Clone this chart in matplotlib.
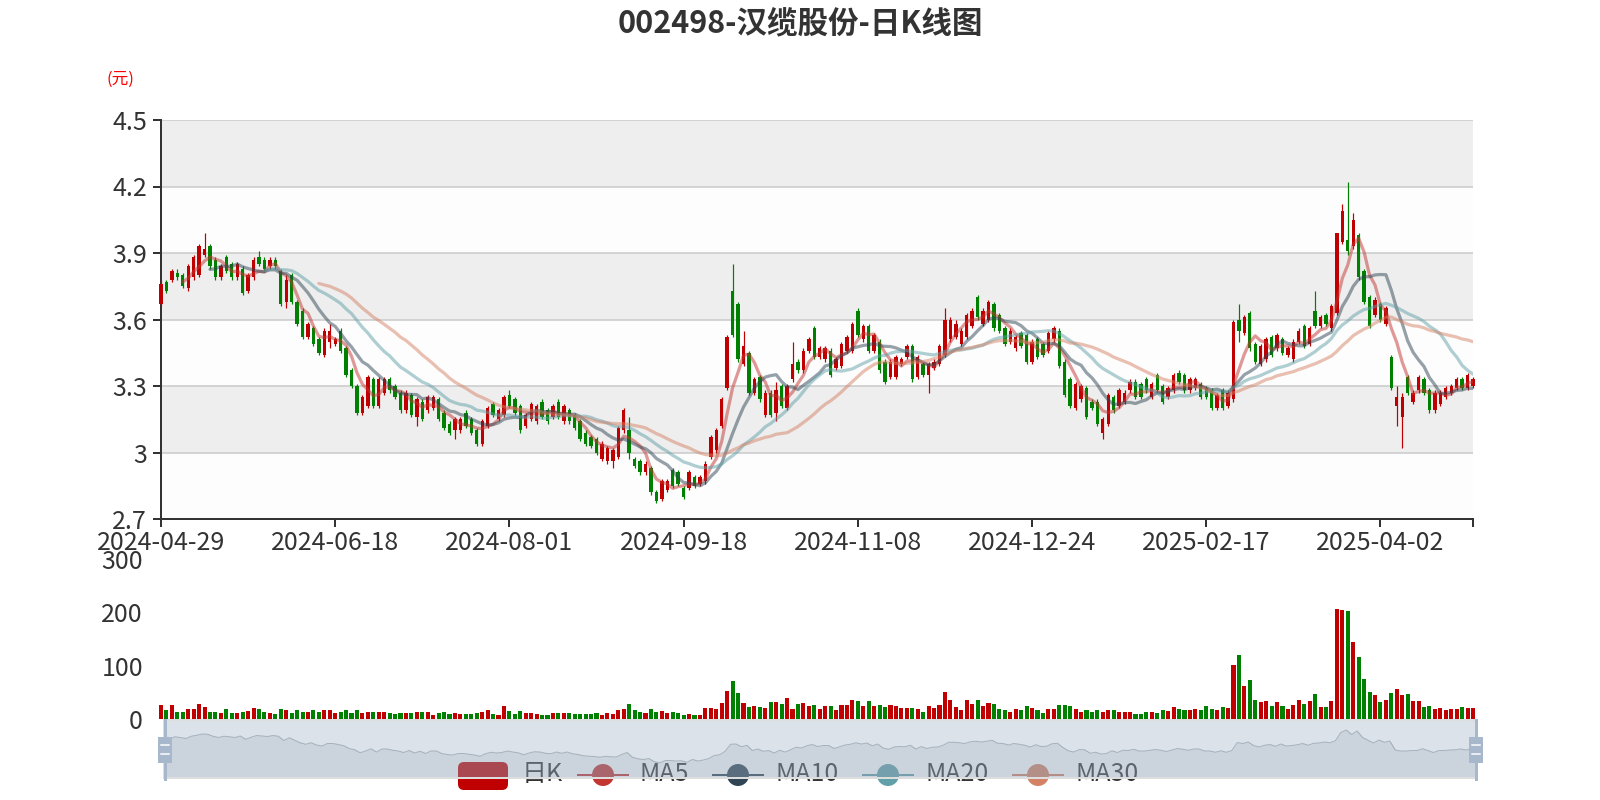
import numpy as np
import pandas as pd
import matplotlib
matplotlib.use('Agg')
import matplotlib.pyplot as plt
from matplotlib.patches import FancyBboxPatch, Rectangle, Circle

plt.rcParams['font.family'] = ['Noto Sans CJK SC', 'DejaVu Sans']

# trading days (SZ exchange calendar)
holidays = ['2024-05-01', '2024-05-02', '2024-05-03', '2024-06-10', '2024-09-16', '2024-09-17',
            '2024-10-01', '2024-10-02', '2024-10-03', '2024-10-04', '2024-10-07',
            '2025-01-01', '2025-01-28', '2025-01-29', '2025-01-30', '2025-01-31',
            '2025-02-03', '2025-02-04', '2025-04-04']
days = pd.bdate_range('2024-04-29', '2025-04-28')
days = days[~days.isin(pd.to_datetime(holidays))]
dates = days.strftime('%Y-%m-%d').tolist()

opens = [3.67, 3.77, 3.78, 3.81, 3.80, 3.74, 3.79, 3.80, 3.89, 3.93, 3.87, 3.79, 3.88, 3.85, 3.79, 3.83,
         3.73, 3.79, 3.88, 3.87, 3.84, 3.87, 3.82, 3.68, 3.80, 3.68, 3.64, 3.52, 3.56, 3.51, 3.44, 3.50,
         3.49, 3.55, 3.47, 3.37, 3.30, 3.18, 3.21, 3.33, 3.21, 3.27, 3.33, 3.30, 3.27, 3.19, 3.26, 3.16,
         3.23, 3.19, 3.20, 3.24, 3.18, 3.13, 3.10, 3.10, 3.18, 3.15, 3.10, 3.04, 3.12, 3.22, 3.15, 3.17,
         3.26, 3.24, 3.21, 3.12, 3.15, 3.14, 3.23, 3.19, 3.16, 3.23, 3.14, 3.19, 3.17, 3.14, 3.09, 3.07,
         3.06, 2.97, 2.96, 2.96, 2.98, 3.10, 3.10, 2.97, 2.96, 2.91, 2.93, 2.82, 2.79, 2.83, 2.92, 2.91,
         2.84, 2.84, 2.89, 2.86, 2.87, 2.98, 3.01, 3.12, 3.29, 3.73, 3.67, 3.40, 3.45, 3.27, 3.34, 3.17,
         3.27, 3.18, 3.30, 3.20, 3.33, 3.41, 3.37, 3.46, 3.56, 3.43, 3.42, 3.46, 3.38, 3.39, 3.46, 3.46,
         3.64, 3.51, 3.57, 3.46, 3.50, 3.41, 3.34, 3.34, 3.40, 3.43, 3.48, 3.34, 3.40, 3.35, 3.38, 3.40,
         3.44, 3.51, 3.52, 3.49, 3.52, 3.57, 3.70, 3.58, 3.60, 3.67, 3.62, 3.56, 3.50, 3.47, 3.54, 3.53,
         3.41, 3.51, 3.49, 3.46, 3.51, 3.55, 3.41, 3.33, 3.20, 3.24, 3.29, 3.23, 3.23, 3.09, 3.13, 3.25,
         3.21, 3.23, 3.28, 3.32, 3.31, 3.33, 3.25, 3.35, 3.30, 3.25, 3.28, 3.36, 3.35, 3.28, 3.29, 3.31,
         3.29, 3.28, 3.20, 3.28, 3.21, 3.24, 3.60, 3.54, 3.63, 3.49, 3.40, 3.42, 3.52, 3.47, 3.51, 3.44,
         3.42, 3.50, 3.57, 3.49, 3.64, 3.57, 3.62, 3.56, 3.63, 3.95, 3.96, 3.93, 3.98, 3.82, 3.70, 3.62,
         3.67, 3.58, 3.43, 3.21, 3.16, 3.34, 3.23, 3.28, 3.33, 3.28, 3.19, 3.22, 3.25, 3.27, 3.29, 3.33,
         3.29, 3.30]
closes = [3.76, 3.73, 3.82, 3.79, 3.75, 3.84, 3.88, 3.93, 3.92, 3.84, 3.79, 3.84, 3.82, 3.79, 3.85, 3.72,
          3.80, 3.87, 3.85, 3.83, 3.87, 3.84, 3.67, 3.78, 3.68, 3.58, 3.52, 3.58, 3.49, 3.45, 3.55, 3.55,
          3.51, 3.46, 3.35, 3.30, 3.18, 3.25, 3.34, 3.21, 3.33, 3.33, 3.28, 3.25, 3.19, 3.27, 3.17, 3.24,
          3.15, 3.25, 3.25, 3.15, 3.11, 3.09, 3.15, 3.15, 3.12, 3.09, 3.04, 3.14, 3.20, 3.17, 3.19, 3.25,
          3.21, 3.18, 3.10, 3.17, 3.22, 3.21, 3.16, 3.14, 3.21, 3.16, 3.21, 3.14, 3.11, 3.06, 3.04, 3.03,
          3.00, 3.04, 3.02, 3.01, 3.11, 3.19, 3.00, 2.94, 2.91, 2.95, 2.82, 2.78, 2.87, 2.87, 2.85, 2.86,
          2.80, 2.91, 2.85, 2.89, 2.95, 3.07, 3.10, 3.24, 3.52, 3.53, 3.42, 3.48, 3.27, 3.33, 3.24, 3.27,
          3.17, 3.28, 3.21, 3.30, 3.40, 3.37, 3.46, 3.51, 3.43, 3.47, 3.47, 3.35, 3.42, 3.49, 3.52, 3.58,
          3.53, 3.57, 3.46, 3.53, 3.37, 3.32, 3.41, 3.43, 3.42, 3.48, 3.33, 3.43, 3.35, 3.40, 3.41, 3.48,
          3.60, 3.60, 3.58, 3.55, 3.62, 3.64, 3.61, 3.64, 3.68, 3.56, 3.55, 3.49, 3.55, 3.52, 3.48, 3.41,
          3.50, 3.43, 3.44, 3.54, 3.56, 3.39, 3.26, 3.21, 3.31, 3.30, 3.16, 3.20, 3.13, 3.15, 3.26, 3.19,
          3.28, 3.27, 3.32, 3.25, 3.25, 3.28, 3.31, 3.28, 3.23, 3.29, 3.35, 3.32, 3.28, 3.33, 3.33, 3.25,
          3.25, 3.20, 3.26, 3.20, 3.27, 3.59, 3.55, 3.61, 3.47, 3.41, 3.48, 3.51, 3.44, 3.53, 3.45, 3.47,
          3.50, 3.55, 3.48, 3.56, 3.57, 3.61, 3.58, 3.66, 3.99, 4.09, 3.91, 4.05, 3.79, 3.68, 3.57, 3.69,
          3.60, 3.65, 3.29, 3.25, 3.25, 3.27, 3.27, 3.34, 3.27, 3.19, 3.27, 3.27, 3.29, 3.30, 3.33, 3.29,
          3.35, 3.33]
lows = [3.66, 3.72, 3.77, 3.78, 3.74, 3.73, 3.78, 3.79, 3.88, 3.83, 3.78, 3.78, 3.81, 3.78, 3.78, 3.71,
        3.72, 3.78, 3.84, 3.82, 3.83, 3.83, 3.66, 3.65, 3.67, 3.57, 3.51, 3.51, 3.48, 3.44, 3.43, 3.47,
        3.48, 3.45, 3.34, 3.29, 3.17, 3.17, 3.20, 3.20, 3.20, 3.26, 3.27, 3.24, 3.18, 3.18, 3.16, 3.12,
        3.14, 3.18, 3.19, 3.14, 3.10, 3.08, 3.06, 3.09, 3.11, 3.08, 3.03, 3.03, 3.11, 3.16, 3.14, 3.16,
        3.20, 3.17, 3.09, 3.11, 3.14, 3.13, 3.15, 3.13, 3.15, 3.15, 3.13, 3.13, 3.10, 3.05, 3.03, 3.02,
        2.99, 2.96, 2.95, 2.93, 2.97, 3.09, 2.97, 2.93, 2.90, 2.90, 2.81, 2.77, 2.78, 2.82, 2.84, 2.85,
        2.79, 2.83, 2.84, 2.85, 2.86, 2.97, 3.00, 3.11, 3.28, 3.52, 3.41, 3.39, 3.26, 3.26, 3.23, 3.16,
        3.16, 3.14, 3.20, 3.19, 3.32, 3.36, 3.36, 3.45, 3.42, 3.42, 3.41, 3.34, 3.37, 3.38, 3.45, 3.45,
        3.52, 3.50, 3.45, 3.45, 3.36, 3.31, 3.33, 3.33, 3.39, 3.42, 3.32, 3.33, 3.34, 3.27, 3.37, 3.39,
        3.43, 3.50, 3.51, 3.48, 3.51, 3.56, 3.60, 3.57, 3.59, 3.55, 3.54, 3.48, 3.49, 3.46, 3.47, 3.40,
        3.40, 3.42, 3.43, 3.45, 3.50, 3.38, 3.25, 3.20, 3.19, 3.23, 3.15, 3.19, 3.12, 3.06, 3.12, 3.18,
        3.20, 3.22, 3.27, 3.24, 3.24, 3.27, 3.24, 3.27, 3.22, 3.24, 3.27, 3.31, 3.27, 3.27, 3.28, 3.24,
        3.24, 3.19, 3.19, 3.19, 3.20, 3.23, 3.50, 3.53, 3.46, 3.40, 3.39, 3.41, 3.43, 3.46, 3.44, 3.43,
        3.41, 3.49, 3.47, 3.48, 3.56, 3.56, 3.57, 3.55, 3.62, 3.94, 3.89, 3.92, 3.78, 3.67, 3.56, 3.61,
        3.59, 3.57, 3.28, 3.12, 3.02, 3.26, 3.22, 3.27, 3.26, 3.18, 3.18, 3.21, 3.24, 3.26, 3.28, 3.28,
        3.28, 3.29]
highs = [3.78, 3.78, 3.83, 3.83, 3.81, 3.85, 3.89, 3.94, 3.99, 3.94, 3.88, 3.85, 3.89, 3.86, 3.86, 3.84,
         3.81, 3.88, 3.91, 3.88, 3.88, 3.88, 3.83, 3.80, 3.81, 3.69, 3.65, 3.59, 3.57, 3.52, 3.56, 3.58,
         3.52, 3.56, 3.48, 3.38, 3.31, 3.26, 3.35, 3.34, 3.34, 3.34, 3.34, 3.31, 3.28, 3.28, 3.27, 3.25,
         3.24, 3.26, 3.26, 3.25, 3.19, 3.14, 3.16, 3.16, 3.19, 3.16, 3.11, 3.15, 3.21, 3.23, 3.20, 3.26,
         3.28, 3.25, 3.22, 3.18, 3.23, 3.22, 3.24, 3.20, 3.22, 3.24, 3.22, 3.20, 3.18, 3.15, 3.10, 3.08,
         3.07, 3.05, 3.03, 3.02, 3.12, 3.20, 3.16, 2.98, 2.97, 2.96, 2.94, 2.83, 2.88, 2.88, 2.93, 2.92,
         2.85, 2.92, 2.90, 2.90, 2.96, 3.08, 3.11, 3.25, 3.53, 3.85, 3.68, 3.55, 3.46, 3.34, 3.35, 3.28,
         3.28, 3.32, 3.31, 3.31, 3.50, 3.42, 3.47, 3.52, 3.57, 3.48, 3.48, 3.47, 3.43, 3.50, 3.53, 3.59,
         3.65, 3.58, 3.58, 3.54, 3.51, 3.42, 3.42, 3.44, 3.43, 3.49, 3.49, 3.44, 3.41, 3.41, 3.42, 3.49,
         3.65, 3.61, 3.60, 3.56, 3.63, 3.65, 3.71, 3.65, 3.69, 3.68, 3.63, 3.57, 3.56, 3.53, 3.55, 3.54,
         3.51, 3.52, 3.50, 3.55, 3.57, 3.56, 3.42, 3.34, 3.32, 3.31, 3.30, 3.24, 3.24, 3.16, 3.27, 3.26,
         3.29, 3.28, 3.33, 3.33, 3.32, 3.34, 3.32, 3.36, 3.31, 3.30, 3.36, 3.37, 3.36, 3.34, 3.34, 3.32,
         3.30, 3.29, 3.27, 3.29, 3.28, 3.60, 3.67, 3.62, 3.64, 3.50, 3.49, 3.52, 3.53, 3.54, 3.52, 3.48,
         3.51, 3.56, 3.58, 3.57, 3.73, 3.62, 3.63, 3.67, 3.99, 4.12, 4.22, 4.08, 3.99, 3.83, 3.71, 3.70,
         3.68, 3.66, 3.44, 3.30, 3.27, 3.35, 3.28, 3.35, 3.34, 3.29, 3.28, 3.28, 3.30, 3.31, 3.34, 3.34,
         3.36, 3.34]
volumes = [26, 16, 26, 13, 13, 19, 18, 28, 23, 13, 13, 11, 18, 11, 11, 13, 15, 20, 19, 13, 12, 10, 18, 16,
           11, 17, 14, 14, 17, 14, 17, 17, 11, 14, 17, 11, 17, 11, 13, 13, 14, 14, 12, 10, 11, 11, 11, 13,
           13, 13, 8, 11, 13, 9, 12, 10, 10, 10, 11, 13, 17, 10, 8, 25, 15, 10, 15, 11, 11, 9, 8, 8,
           11, 11, 11, 12, 9, 9, 9, 9, 11, 7, 12, 10, 16, 18, 29, 17, 13, 11, 19, 13, 15, 12, 13, 11,
           8, 10, 8, 7, 20, 20, 19, 30, 53, 72, 48, 30, 23, 25, 23, 21, 31, 31, 28, 40, 19, 29, 30, 24,
           27, 19, 24, 25, 16, 27, 27, 36, 33, 25, 33, 25, 27, 22, 27, 24, 20, 20, 20, 19, 14, 24, 20, 26,
           50, 36, 22, 17, 35, 29, 36, 24, 30, 28, 19, 17, 14, 19, 17, 25, 20, 17, 12, 19, 19, 26, 26, 25,
           19, 14, 17, 14, 16, 14, 17, 16, 14, 14, 13, 9, 10, 14, 14, 12, 17, 15, 22, 19, 16, 17, 19, 16,
           25, 19, 17, 22, 20, 101, 120, 61, 74, 36, 31, 34, 24, 32, 24, 19, 26, 36, 29, 33, 46, 22, 22, 33,
           207, 205, 202, 145, 116, 75, 51, 45, 31, 35, 48, 56, 45, 47, 33, 33, 22, 24, 19, 20, 17, 19, 19, 22,
           20, 20]

UP = '#c00000'
DOWN = '#008000'
ma_names = ['MA5', 'MA10', 'MA20', 'MA30']
ma_windows = [5, 10, 20, 30]
ma_colors = ['#c23531', '#2f4554', '#61a0a8', '#d48265']

o = np.array(opens)
c = np.array(closes)
lo = np.array(lows)
hi = np.array(highs)
v = np.array(volumes)
x = np.arange(len(c))
n = len(c)
cols = np.where(c >= o, UP, DOWN)

W, H = 1600, 800
fig = plt.figure(figsize=(16, 8), dpi=100)

def box(l, t, r, b):
    return [l / W, 1 - b / H, (r - l) / W, (b - t) / H]

PX = 72 / 100  # points per pixel

# ---- main K chart ----
ax = fig.add_axes(box(161, 120, 1473, 519))
ax.set_xlim(0, n - 1)
ax.set_ylim(2.7, 4.5)
for k in range(6):
    ax.axhspan(2.7 + 0.3 * k, 3.0 + 0.3 * k, color='#fdfdfd' if k % 2 == 0 else '#eeeeee', lw=0, zorder=0)
for yv in [3.0, 3.3, 3.6, 3.9, 4.2, 4.5]:
    ax.axhline(yv, color='#cccccc', lw=1.6 * PX, zorder=1)

ax.vlines(x, lo, hi, colors=cols, lw=1.2 * PX, zorder=3, clip_on=False)
body = np.maximum(np.abs(c - o), 0.004)
ax.bar(x, body, bottom=np.minimum(o, c), width=0.62, color=cols, lw=0, zorder=3, clip_on=False)

cs = pd.Series(c)
for name, w, col in zip(ma_names, ma_windows, ma_colors):
    ax.plot(x, cs.rolling(w).mean(), color=col, lw=3.2 * PX, alpha=0.5, zorder=4,
            solid_capstyle='round', solid_joinstyle='round')

for s in ['top', 'right']:
    ax.spines[s].set_visible(False)
for s in ['left', 'bottom']:
    ax.spines[s].set_color('#333333')
    ax.spines[s].set_linewidth(2 * PX)
ax.set_yticks([2.7, 3.0, 3.3, 3.6, 3.9, 4.2, 4.5])
ax.set_yticklabels(['2.7', '3', '3.3', '3.6', '3.9', '4.2', '4.5'])
tick_idx = list(range(0, n, 32))
ax.set_xticks(tick_idx + [n - 1])
ax.set_xticklabels([dates[i] for i in tick_idx] + [''])
ax.tick_params(axis='y', length=8 * PX, width=2 * PX, color='#333333', pad=6 * PX,
               labelsize=18, labelcolor='#333333')
ax.tick_params(axis='x', length=8 * PX, width=2 * PX, color='#333333', pad=3 * PX,
               labelsize=18, labelcolor='#333333')

# ---- volume ----
ax2 = fig.add_axes(box(161, 559, 1473, 719))
ax2.set_xlim(0, n - 1)
ax2.set_ylim(0, 300)
ax2.bar(x, v, width=0.75, color=cols, lw=0, clip_on=False)
for s in ax2.spines.values():
    s.set_visible(False)
ax2.set_facecolor('none')
ax2.set_xticks([])
ax2.set_yticks([0, 100, 200, 300])
ax2.set_yticklabels(['0', '100', '200', '300'])
ax2.tick_params(axis='y', length=0, pad=18 * PX, labelsize=18, labelcolor='#333333')

# ---- legend (drawn under the data zoom) ----
lg = fig.add_axes([0, 0, 1, 1], zorder=5)
lg.set_xlim(0, W)
lg.set_ylim(H, 0)
lg.axis('off')
lg.add_patch(FancyBboxPatch((458, 762), 50, 28, boxstyle='round,pad=0,rounding_size=6',
                            color=UP, lw=0))
lg.text(522, 774, '日K', fontsize=18, color='#333333', va='center', ha='left')
leg_x = [578, 713, 863, 1013]
for lx, name, col in zip(leg_x, ma_names, ma_colors):
    lg.plot([lx, lx + 50], [775, 775], color=col, lw=2 * PX)
    lg.add_patch(Circle((lx + 25, 775), 11, color=col, lw=0))
    lg.text(lx + 62, 774, name, fontsize=18, color='#333333', va='center', ha='left')

# ---- data zoom ----
dz = fig.add_axes(box(164, 720, 1477, 778), zorder=10)
dz.set_xlim(0, n - 1)
dz.set_ylim(2.17, 4.49)
dz.set_facecolor((167 / 255, 183 / 255, 204 / 255, 0.4))
dz.fill_between(x, c, 2.17, color=(47 / 255, 69 / 255, 84 / 255), alpha=0.09, lw=0)
dz.plot(x, c, color='#2f4554', alpha=0.3, lw=1 * PX)
dz.set_xticks([])
dz.set_yticks([])
for s in dz.spines.values():
    s.set_color('#dddddd')
    s.set_linewidth(2 * PX)

ov = fig.add_axes([0, 0, 1, 1], zorder=20)
ov.set_xlim(0, W)
ov.set_ylim(H, 0)
ov.axis('off')
for hx in [165, 1476]:
    ov.plot([hx, hx], [720, 779], color='#a7b7cc', lw=3 * PX)
    ov.add_patch(Rectangle((hx - 7, 737), 14, 26, color='#a7b7cc', lw=0))
    for hy in [745, 754]:
        ov.plot([hx - 4, hx + 4], [hy, hy], color='white', lw=1.5 * PX)

# ---- texts ----
fig.text(0.5, 1 - 23 / H, '002498-汉缆股份-日K线图', fontsize=22, fontweight='bold',
         color='#333333', ha='center', va='center')
fig.text(120 / W, 1 - 79 / H, '(元)', fontsize=12, color='#ff0000', ha='center', va='center')

fig.savefig('out.png', dpi=100)
